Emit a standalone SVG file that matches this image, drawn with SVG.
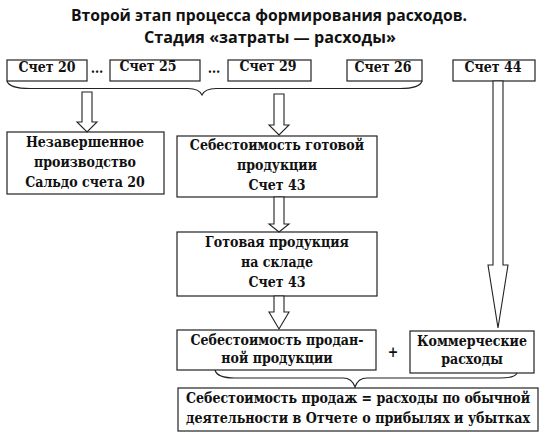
<svg xmlns="http://www.w3.org/2000/svg" width="545" height="441" viewBox="0 0 545 441">
<style>
.title{font-family:"Open Sans","Liberation Sans",sans-serif;font-weight:bold;font-size:16px;fill:#111;text-anchor:middle}
.t{font-family:"DejaVu Serif Condensed","DejaVu Serif","Liberation Serif",serif;font-stretch:condensed;font-weight:bold;font-size:14px;fill:#111;text-anchor:middle}
.box{fill:#fff;stroke:#222;stroke-width:1.2}
.arr{fill:#fff;stroke:#222;stroke-width:1.1;stroke-linejoin:miter}
.brace{fill:none;stroke:#222;stroke-width:1.1}
</style>
<rect width="545" height="441" fill="#fff"/>
<g id="title">
<text class="title" x="269" y="21" textLength="396" lengthAdjust="spacingAndGlyphs">Второй этап процесса формирования расходов.</text>
<text class="title" x="270" y="43" textLength="252" lengthAdjust="spacingAndGlyphs">Стадия «затраты — расходы»</text>
</g>
<g id="acc20"><rect class="box" x="7" y="60" width="80" height="21"/><text class="t" x="47" y="72">Счет 20</text></g>
<g id="acc25"><rect class="box" x="110" y="60" width="90" height="21"/><text class="t" x="148" y="71">Счет 25</text></g>
<g id="acc29"><rect class="box" x="228" y="60" width="83" height="21"/><text class="t" x="268" y="71">Счет 29</text></g>
<g id="acc26"><rect class="box" x="347" y="60" width="75" height="21"/><text class="t" x="383" y="72">Счет 26</text></g>
<g id="acc44"><rect class="box" x="453" y="60" width="82" height="21"/><text class="t" x="493" y="72">Счет 44</text></g>
<g id="dots">
<text class="t" x="97" y="73">…</text>
<text class="t" x="214" y="73">…</text>
</g>
<g id="wip"><rect class="box" x="7" y="132" width="157" height="62"/>
<text class="t" x="85" y="147">Незавершенное</text>
<text class="t" x="85" y="167">производство</text>
<text class="t" x="85" y="187">Сальдо счета 20</text></g>
<g id="cost-finished"><rect class="box" x="177" y="136" width="200" height="61"/>
<text class="t" x="277" y="150">Себестоимость готовой</text>
<text class="t" x="277" y="170">продукции</text>
<text class="t" x="277" y="190">Счет 43</text></g>
<g id="warehouse"><rect class="box" x="177" y="232" width="200" height="64"/>
<text class="t" x="277" y="247">Готовая продукция</text>
<text class="t" x="277" y="267">на складе</text>
<text class="t" x="277" y="287">Счет 43</text></g>
<g id="cost-sold"><rect class="box" x="177" y="330" width="199" height="40"/>
<text class="t" x="277" y="345">Себестоимость продан-</text>
<text class="t" x="277" y="363">ной продукции</text></g>
<g id="plus"><text class="t" x="393" y="357">+</text></g>
<g id="commercial"><rect class="box" x="410" y="331" width="124" height="42"/>
<text class="t" x="472" y="346">Коммерческие</text>
<text class="t" x="472" y="364">расходы</text></g>
<g id="total"><rect class="box" x="178" y="388" width="360" height="43"/>
<text class="t" x="358" y="403" textLength="344" lengthAdjust="spacingAndGlyphs">Себестоимость продаж = расходы по обычной</text>
<text class="t" x="358" y="423" textLength="344" lengthAdjust="spacingAndGlyphs">деятельности в Отчете о прибылях и убытках</text></g>
<g id="connectors">
<path class="brace" d="M7,81 Q9,88.5 30,88.5 L188,88.5 Q199,88.5 202,95 Q205,88.5 216,88.5 L400,88.5 Q420,88.5 422,81"/>
<path class="brace" d="M215,370 Q217,378 235,378 L343,378 Q352,378 355,387 Q358,378 367,378 L500,378 Q515,378 517,373"/>
<polygon class="arr" points="82,92 92,92 92,122 97,122 87,132 77,122 82,122"/>
<polygon class="arr" points="274,94 284,94 284,125 289,125 279,135 269,125 274,125"/>
<polygon class="arr" points="274,197 284,197 284,224 289,224 279,232 269,224 274,224"/>
<polygon class="arr" points="274,296 284,296 284,312 289,312 279,329 269,312 274,312"/>
<polygon class="arr" points="493,81 503,81 503,265 508,265 498,328 488,265 493,265"/>
</g>
</svg>
